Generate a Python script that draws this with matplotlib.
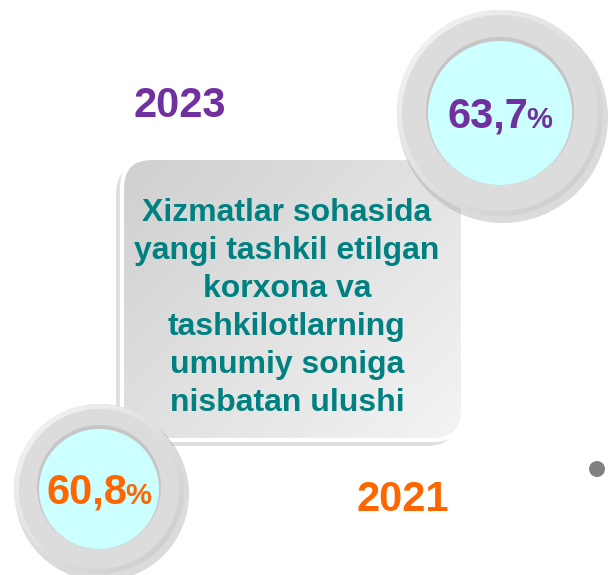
import numpy as np
import matplotlib
matplotlib.use("Agg")
import matplotlib.pyplot as plt
from matplotlib.patches import Circle, FancyBboxPatch

years = ["2021", "2023"]
shares = [60.8, 63.7]
colors = ["#FF6600", "#7030A0"]
title_lines = ["Xizmatlar sohasida", "yangi tashkil etilgan", "korxona va",
               "tashkilotlarning", "umumiy soniga", "nisbatan ulushi"]

W, H = 608, 575
fig = plt.figure(figsize=(W / 100, H / 100), dpi=100)
ax = fig.add_axes([0, 0, 1, 1])
ax.set_xlim(0, W)
ax.set_ylim(H, 0)
ax.set_aspect("equal")
ax.axis("off")
FONT = "Liberation Sans"


def gradient(ax, clip, x0, x1, y0, y1, c0, c1, angle=45, z=1):
    n = 200
    xx, yy = np.meshgrid(np.linspace(0, 1, n), np.linspace(0, 1, n))
    a = np.deg2rad(angle)
    t = (xx * np.cos(a) + yy * np.sin(a))
    t = (t - t.min()) / (t.max() - t.min())
    c0 = np.array(matplotlib.colors.to_rgb(c0))
    c1 = np.array(matplotlib.colors.to_rgb(c1))
    img = c0[None, None, :] * (1 - t[..., None]) + c1[None, None, :] * t[..., None]
    im = ax.imshow(img, extent=(x0, x1, y1, y0), zorder=z, interpolation="bilinear")
    im.set_clip_path(clip)
    return im


# --- central rounded box ---
bx, by, bw, bh = 122, 158, 341, 282
sh = FancyBboxPatch((bx - 6, by + 6), bw, bh, boxstyle="round,pad=0,rounding_size=30",
                    fc="#b8b8b8", ec="none", alpha=0.45, zorder=1)
ax.add_patch(sh)
box = FancyBboxPatch((bx, by), bw, bh, boxstyle="round,pad=0,rounding_size=30",
                     fc="none", ec="#ffffff", lw=3, zorder=3)
boxfill = FancyBboxPatch((bx, by), bw, bh, boxstyle="round,pad=0,rounding_size=30",
                         fc="#dddddd", ec="none", zorder=1.5)
ax.add_patch(boxfill)
gradient(ax, boxfill, bx, bx + bw, by, by + bh, "#cfcfcf", "#f4f4f4", angle=40, z=2)
ax.add_patch(box)

line_y0, line_dy = 213, 38
for i, line in enumerate(title_lines):
    ax.text(287, line_y0 + i * line_dy, line, ha="center", va="center",
            fontsize=23, fontweight="bold", color="#008080", family=FONT, zorder=5)


# --- circles ---
def badge(cx, cy, R, r, value, color):
    ax.add_patch(Circle((cx + 3, cy + 5), R + 2, fc="#9a9a9a", ec="none", alpha=0.35, zorder=6))
    outer = Circle((cx, cy), R, fc="#dadada", ec="none", zorder=6.5)
    ax.add_patch(outer)
    gradient(ax, outer, cx - R, cx + R, cy - R, cy + R, "#f7f7f7", "#c9c9c9", angle=45, z=7)
    ax.add_patch(Circle((cx, cy), R - 5, fc="#dcdcdc", ec="none", zorder=7.3))
    ax.add_patch(Circle((cx, cy - 2), r + 2, fc="#b8b8b8", ec="none", alpha=0.6, zorder=7.5))
    ax.add_patch(Circle((cx, cy), r, fc="#CCFFFF", ec="none", zorder=8))
    num = f"{value:.1f}".replace(".", ",")
    base = cy + 15
    t = ax.text(cx, base, num, ha="left", va="baseline", fontsize=30,
                fontweight="bold", color=color, family=FONT, zorder=9)
    p = ax.text(cx, base, "%", ha="left", va="baseline", fontsize=21,
                fontweight="bold", color=color, family=FONT, zorder=9)
    fig.canvas.draw()
    inv = ax.transData.inverted()
    bb = t.get_window_extent()
    (x0, _), (x1, _) = inv.transform([[bb.x0, bb.y0], [bb.x1, bb.y1]])
    pb = p.get_window_extent()
    (p0, _), (p1, _) = inv.transform([[pb.x0, pb.y0], [pb.x1, pb.y1]])
    nw, pw = x1 - x0, p1 - p0
    gap = -2
    left = cx - (nw + gap + pw) / 2
    t.set_x(left)
    p.set_x(left + nw + gap)


badge(500, 113, 103, 72, shares[1], colors[1])
badge(99, 489, 85, 60, shares[0], colors[0])

ax.text(180, 106, years[1], ha="center", va="center", fontsize=30,
        fontweight="bold", color=colors[1], family=FONT, zorder=5)
ax.text(403, 500, years[0], ha="center", va="center", fontsize=30,
        fontweight="bold", color=colors[0], family=FONT, zorder=5)

ax.add_patch(Circle((597, 469), 8, fc="#808080", ec="none", zorder=5))

fig.savefig("out.png", dpi=100)
